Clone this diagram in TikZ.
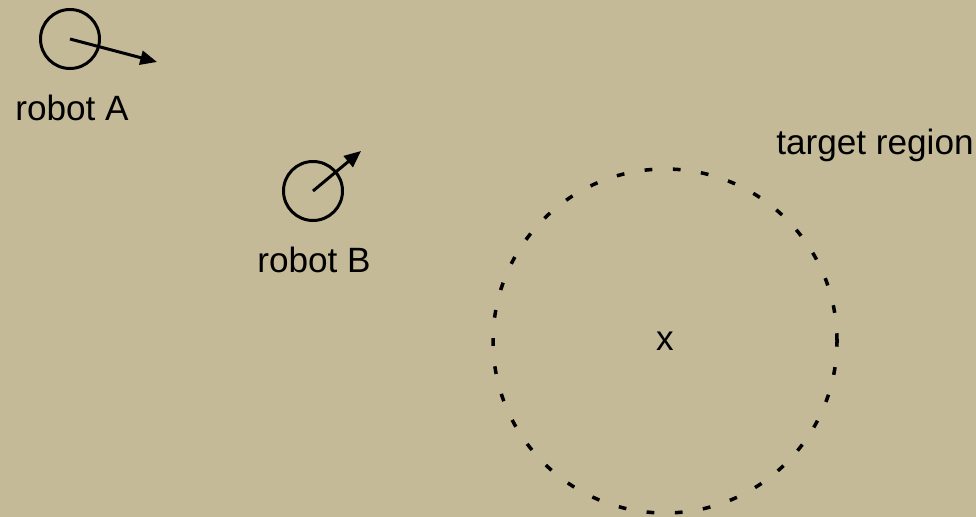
\documentclass[tikz,border=0pt]{standalone}
\usepackage{fontspec}
\setmainfont{Liberation Sans}
\usepackage{tikz}
\usetikzlibrary{arrows.meta,positioning}
\definecolor{paperkhaki}{RGB}{196,186,151}

\begin{document}
\begin{tikzpicture}
    % Styles
    \tikzstyle{robot} = [draw=black, line width=1.7pt, circle, minimum size=1.18cm, inner sep=0pt]
    \tikzstyle{heading} = [->, line width=1.7pt, >={Triangle[length=9.5pt,width=8pt]}]
    \tikzstyle{region} = [draw=black, line width=2pt, circle, minimum size=6.88cm, inner sep=0pt, dash pattern=on 4.4pt off 11.7pt, font=\fontsize{20}{24}\selectfont]
    \tikzstyle{caption} = [font=\fontsize{20}{24}\selectfont, inner sep=0pt]

    % Background
    \fill[paperkhaki] (0,0) rectangle (19.52,10.34);
    \useasboundingbox (0,0) rectangle (19.52,10.34);

    % Robot A
    \node[robot] (robotA) at (1.40, 9.56) {};
    \coordinate (tipA) at (3.14, 9.10);
    \node[caption] (labelA) at (1.44, 8.18) {robot A};
    \draw[heading] (robotA.center) -- (tipA);

    % Robot B
    \node[robot] (robotB) at (6.26, 6.52) {};
    \coordinate (tipB) at (7.22, 7.32);
    \node[caption] (labelB) at (6.28, 5.14) {robot B};
    \draw[heading] (robotB.center) -- (tipB);

    % Target region
    \node[region] (target) at (13.30, 3.52) {x};
    \node[caption] (labelT) at (17.50, 7.44) {target region};
\end{tikzpicture}
\end{document}
